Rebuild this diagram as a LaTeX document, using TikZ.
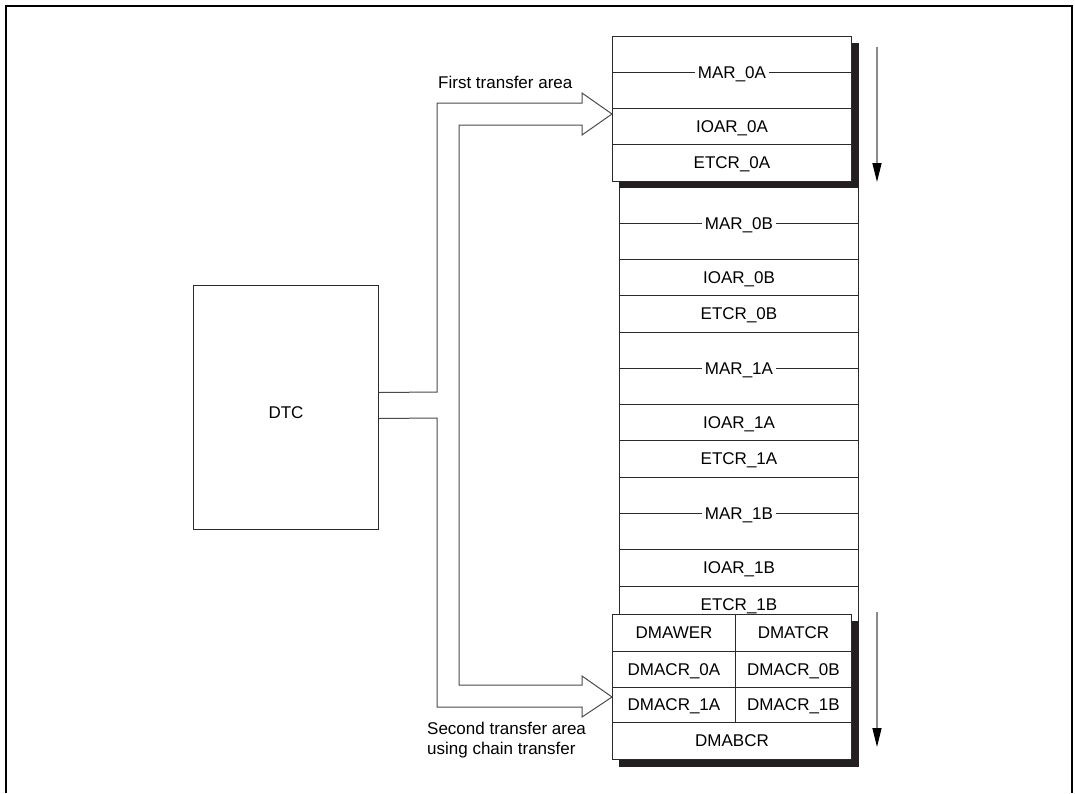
\documentclass[tikz,border=0pt]{standalone}
\usepackage{fontspec}
\setmainfont{Liberation Sans}
\usetikzlibrary{arrows.meta}
\definecolor{boxc}{HTML}{2A2A2A}
\definecolor{connc}{HTML}{4A4A4A}
\definecolor{shadc}{HTML}{231F20}
\definecolor{dirc}{HTML}{8A8A8A}
\begin{document}
\begin{tikzpicture}[x=1pt,y=-1pt,
  font=\fontsize{17}{20}\selectfont,
  reg/.style={draw=boxc, line width=1pt, fill=white, rectangle, inner sep=0pt,
    anchor=north west, text height=12pt, text depth=1pt},
  wide/.style={reg, minimum width=239pt},
  midline/.style={draw=boxc, line width=1pt},
  lbl/.style={fill=white, inner xsep=3pt, inner ysep=1pt, text height=12pt, text depth=1pt},
  conn/.style={draw=connc, line width=1pt, line join=miter},
  dir/.style={draw=dirc, line width=1.5pt, -{Triangle[length=19pt,width=9pt,black]}},
  shadow/.style={fill=shadc},
  note/.style={inner sep=0pt, align=left}
]
\useasboundingbox (0,0) rectangle (1075,793);
% frame (open at the bottom)
\draw[line width=2pt] (6,793) -- (6,6) -- (1072,6) -- (1072,793);

% middle block
\node[wide, minimum height=72pt] (mar0b) at (619,187) {};
\draw[midline] (mar0b.west) -- (mar0b.east);
\node[lbl] (mar0bt) at (mar0b) {MAR\_0B};
\node[wide, minimum height=36pt] (ioar0b) at (619,259) {IOAR\_0B};
\node[wide, minimum height=37pt] (etcr0b) at (619,295) {ETCR\_0B};
\node[wide, minimum height=72pt] (mar1a) at (619,332) {};
\draw[midline] (mar1a.west) -- (mar1a.east);
\node[lbl] (mar1at) at (mar1a) {MAR\_1A};
\node[wide, minimum height=36pt] (ioar1a) at (619,404) {IOAR\_1A};
\node[wide, minimum height=37pt] (etcr1a) at (619,440) {ETCR\_1A};
\node[wide, minimum height=72pt] (mar1b) at (619,477) {};
\draw[midline] (mar1b.west) -- (mar1b.east);
\node[lbl] (mar1bt) at (mar1b) {MAR\_1B};
\node[wide, minimum height=37pt] (ioar1b) at (619,549) {IOAR\_1B};
\node[wide, minimum height=36pt] (etcr1b) at (619,586) {ETCR\_1B};

% top block (first transfer area)
\fill[shadow] (619,43) rectangle (858.5,188);
\node[wide, minimum height=72pt] (mar0a) at (612,36) {};
\draw[midline] (mar0a.west) -- (mar0a.east);
\node[lbl] (mar0at) at (mar0a) {MAR\_0A};
\node[wide, minimum height=36pt] (ioar0a) at (612,108) {IOAR\_0A};
\node[wide, minimum height=37pt] (etcr0a) at (612,144) {ETCR\_0A};

% bottom block (second transfer area)
\fill[shadow] (619,621) rectangle (858.5,767);
\node[reg, minimum width=123pt, minimum height=37pt] (dmawer) at (612,614) {DMAWER};
\node[reg, minimum width=116pt, minimum height=37pt] (dmatcr) at (735,614) {DMATCR};
\node[reg, minimum width=123pt, minimum height=36pt] (dmacr0a) at (612,651) {DMACR\_0A};
\node[reg, minimum width=116pt, minimum height=36pt] (dmacr0b) at (735,651) {DMACR\_0B};
\node[reg, minimum width=123pt, minimum height=35pt] (dmacr1a) at (612,687) {DMACR\_1A};
\node[reg, minimum width=116pt, minimum height=35pt] (dmacr1b) at (735,687) {DMACR\_1B};
\node[wide, minimum height=37pt] (dmabcr) at (612,722) {DMABCR};

% DTC
\node[reg, minimum width=185pt, minimum height=244pt, text height=22pt, text depth=0pt] (dtc) at (193,285) {DTC};

% hollow transfer arrows
\coordinate (tipA) at (612,114);
\coordinate (tipB) at (612,697);
\draw[conn] ([yshift=15pt]dtc.east) -- (437,392) -- (437,103) -- (582,103) -- (582,93)
  -- (tipA) -- (582,135) -- (582,125) -- (459,125) -- (459,685) -- (582,685) -- (582,676)
  -- (tipB) -- (582,717) -- (582,707) -- (437,707) -- (437,418) -- ([yshift=-11pt]dtc.east);

% labels
\node[note, anchor=base west] (first) at (438,88) {First transfer area};
\node[note, anchor=north west] (second) at (427,721.6) {Second transfer area\\using chain transfer};

% direction arrows
\coordinate (d1s) at (877,47);
\coordinate (d1e) at (877,182);
\coordinate (d2s) at (877,612);
\coordinate (d2e) at (877,747);
\draw[dir] (d1s) -- (d1e);
\draw[dir] (d2s) -- (d2e);
\end{tikzpicture}
\end{document}
